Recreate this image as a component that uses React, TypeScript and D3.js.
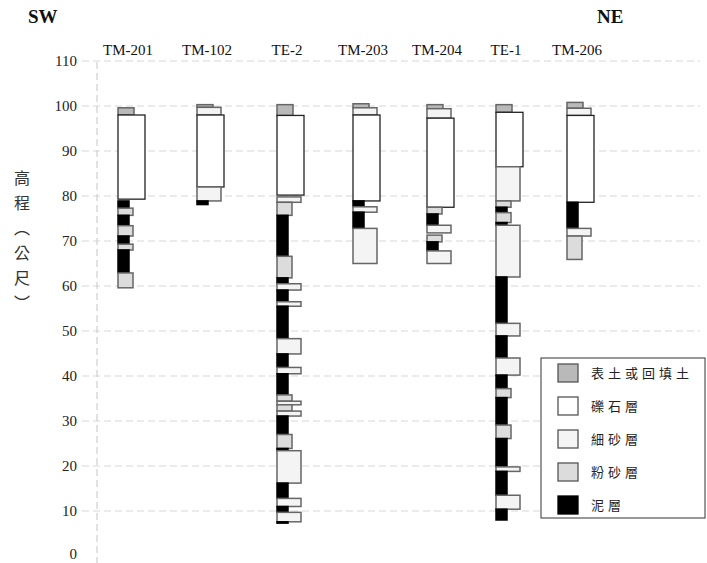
import React from 'react';
import * as d3 from 'd3';

// boreholes along the SW -> NE section
const boreholes = ['TM-201', 'TM-102', 'TE-2', 'TM-203', 'TM-204', 'TE-1', 'TM-206'];
// relative distance along the section line
const sectionDistance = [0, 79, 159, 235, 309, 378, 449];

const yTicks = [0, 10, 20, 30, 40, 50, 60, 70, 80, 90, 100, 110];

// lithology codes: T 表土或回填土, G 礫石層, F 細砂層, S 粉砂層, M 泥層
const lithCodes = ['T', 'G', 'F', 'S', 'M'];
const lithNames = ['表土或回填土', '礫石層', '細砂層', '粉砂層', '泥層'];

// layers: [top elevation, bottom elevation, lithology]
const tm201 = [
  [99.6, 98.0, 'T'], [98.0, 79.3, 'G'], [78.9, 77.3, 'M'], [77.3, 75.7, 'S'],
  [75.7, 73.4, 'M'], [73.4, 71.1, 'S'], [71.1, 69.3, 'M'], [69.3, 68.0, 'S'],
  [68.0, 62.9, 'M'], [62.9, 59.6, 'S'],
];
const tm102 = [
  [100.3, 99.7, 'T'], [99.7, 98.0, 'F'], [98.0, 82.0, 'G'], [82.0, 78.9, 'F'], [78.9, 78.1, 'M'],
];
const te2 = [
  [100.3, 97.9, 'T'], [97.9, 80.2, 'G'], [79.8, 78.6, 'F'], [78.6, 75.7, 'S'],
  [75.7, 66.6, 'M'], [66.6, 61.8, 'S'], [61.8, 60.5, 'M'], [60.5, 59.1, 'F'],
  [59.1, 56.5, 'M'], [56.5, 55.5, 'F'], [55.5, 48.3, 'M'], [48.3, 44.9, 'F'],
  [44.9, 41.9, 'M'], [41.9, 40.5, 'F'], [40.5, 35.8, 'M'], [35.8, 34.4, 'S'],
  [34.4, 33.6, 'F'], [33.6, 32.2, 'S'], [32.2, 31.1, 'F'], [31.1, 27.0, 'M'],
  [27.0, 23.9, 'S'], [23.9, 23.4, 'M'], [23.4, 16.2, 'F'], [16.2, 12.8, 'M'],
  [12.8, 11.0, 'F'], [11.0, 9.7, 'M'], [9.7, 7.6, 'F'], [7.6, 7.3, 'M'],
];
const tm203 = [
  [100.5, 99.6, 'T'], [99.6, 98.0, 'F'], [98.0, 78.9, 'G'], [78.9, 77.6, 'M'],
  [77.6, 76.4, 'F'], [76.4, 72.8, 'M'], [72.8, 65.0, 'F'],
];
const tm204 = [
  [100.3, 99.4, 'T'], [99.4, 97.3, 'F'], [97.3, 77.5, 'G'], [77.5, 76.0, 'S'],
  [76.0, 73.5, 'M'], [73.5, 71.8, 'F'], [71.3, 69.8, 'S'], [69.8, 67.8, 'M'],
  [67.8, 65.0, 'F'],
];
const te1 = [
  [100.3, 98.6, 'T'], [98.6, 86.5, 'G'], [86.5, 78.9, 'F'], [78.9, 77.5, 'S'],
  [77.5, 76.3, 'M'], [76.3, 74.1, 'S'], [74.1, 73.5, 'M'], [73.5, 62.0, 'F'],
  [62.0, 51.7, 'M'], [51.7, 48.9, 'F'], [48.9, 44.0, 'M'], [44.0, 40.2, 'F'],
  [40.2, 37.2, 'M'], [37.2, 35.2, 'S'], [35.2, 29.1, 'M'], [29.1, 26.1, 'S'],
  [26.1, 19.8, 'M'], [19.8, 18.8, 'F'], [18.8, 13.5, 'M'], [13.5, 10.4, 'F'],
  [10.4, 8.0, 'M'],
];
const tm206 = [
  [100.8, 99.5, 'T'], [99.5, 97.9, 'F'], [97.9, 78.6, 'G'], [78.6, 72.8, 'M'],
  [72.8, 71.1, 'F'], [71.1, 65.9, 'S'],
];
const layers = [tm201, tm102, te2, tm203, tm204, te1, tm206];

const width = 707;
const height = 563;
const serif = '"Liberation Serif", "DejaVu Serif", serif';
const cjk = '"Noto Sans CJK TC", "Noto Sans CJK SC", sans-serif';

const App = () => {
  const yScale = d3.scaleLinear().domain([0, 110]).range([556, 61]);
  const xScale = d3.scaleLinear()
    .domain([0, d3.max(sectionDistance)])
    .range([118, 567]);

  const fill = d3.scaleOrdinal<string, string>()
    .domain(lithCodes)
    .range(['#b9b9b9', '#ffffff', '#f4f4f4', '#dcdcdc', '#000000']);
  const stroke = d3.scaleOrdinal<string, string>()
    .domain(lithCodes)
    .range(['#666', '#222', '#666', '#666', '#000']);
  const barWidth = d3.scaleOrdinal<string, number>()
    .domain(lithCodes)
    .range([16, 27, 24, 15, 11]);

  const yLabel = ['高', '程', '︵', '公', '尺', '︶'];

  return (
    <svg width={width} height={height} viewBox={`0 0 ${width} ${height}`}
      style={{ position: 'absolute', left: 0, top: 0, background: '#fff' }}>
      {/* grid */}
      {yTicks.filter(t => t > 0).map(t => (
        <line key={t} x1={82} x2={700} y1={yScale(t)} y2={yScale(t)}
          stroke="#d8d8d8" strokeWidth={1.2} strokeDasharray="7,4" />
      ))}
      <line x1={97} x2={97} y1={62} y2={563} stroke="#cfcfcf" strokeWidth={1.2} strokeDasharray="7,4" />
      {yTicks.map(t => (
        <text key={t} x={77} y={yScale(t)} dy={t === 0 ? '0.2em' : '0.35em'} textAnchor="end"
          fontFamily={serif} fontSize={15} fill="#222">{t}</text>
      ))}

      {/* y label */}
      {yLabel.map((c, i) => (
        <text key={i} x={22} y={178 + i * 25} dy="0.35em" textAnchor="middle"
          fontFamily={cjk} fontSize={16} fill="#333">{c}</text>
      ))}

      <text x={28} y={23} fontFamily={serif} fontWeight="bold" fontSize={19} fill="#111">SW</text>
      <text x={597} y={23} fontFamily={serif} fontWeight="bold" fontSize={19} fill="#111">NE</text>

      {boreholes.map((name, i) => {
        const x0 = xScale(sectionDistance[i]);
        return (
          <g key={name}>
            <text x={x0 + 10} y={55} textAnchor="middle" fontFamily={serif} fontSize={15} fill="#111">{name}</text>
            {layers[i].map((l, j) => {
              const [top, bottom, code] = l as [number, number, string];
              return (
                <rect key={j} x={x0} y={yScale(top)} width={barWidth(code)}
                  height={yScale(bottom) - yScale(top)}
                  fill={fill(code)} stroke={stroke(code)}
                  strokeWidth={code === 'G' ? 1.3 : 1.5} />
              );
            })}
          </g>
        );
      })}

      {/* legend */}
      <g>
        <rect x={541} y={358} width={164} height={160} fill="#fff" stroke="#333" strokeWidth={1} />
        {lithCodes.map((code, i) => {
          const cy = 373 + i * 33;
          return (
            <g key={code}>
              <rect x={558} y={cy - 9} width={20} height={18} fill={fill(code)}
                stroke={code === 'M' ? '#000' : '#555'} strokeWidth={1.3} />
              <text x={591} y={cy} dy="0.35em" fontFamily={cjk} fontSize={13}
                letterSpacing={4} fill="#222">{lithNames[i]}</text>
            </g>
          );
        })}
      </g>
    </svg>
  );
};

export default App;
